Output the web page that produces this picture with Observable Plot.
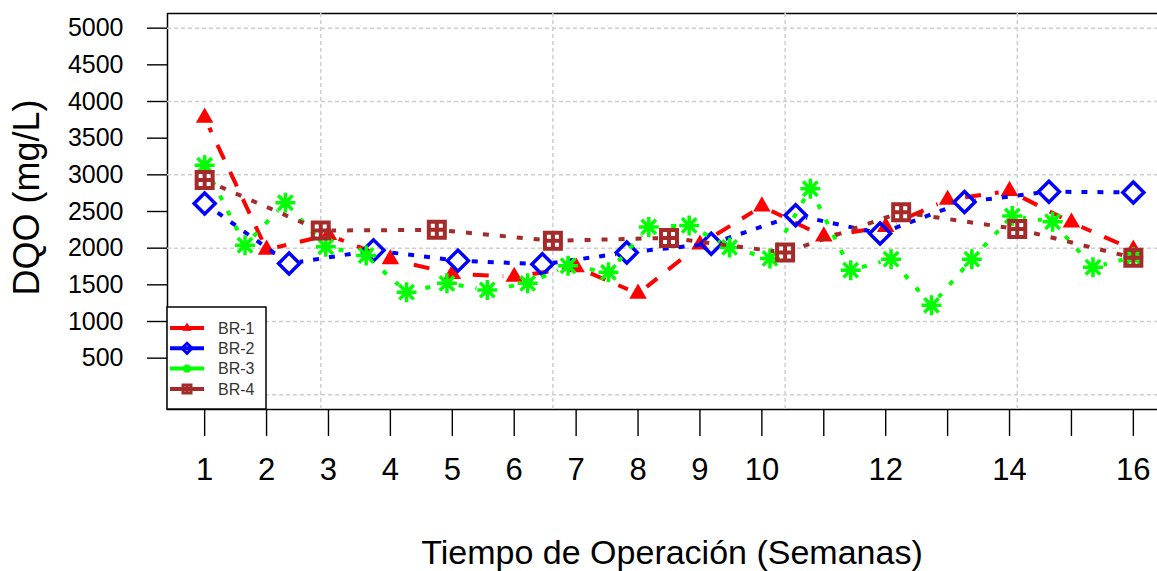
<!DOCTYPE html>
<html><head><meta charset="utf-8">
<script src="https://cdn.jsdelivr.net/npm/d3@7"></script>
<script src="https://cdn.jsdelivr.net/npm/@observablehq/plot@0.6"></script>
<style>
html,body{margin:0;padding:0;background:#fff;overflow:hidden;}
#wrap{width:1157px;height:571px;overflow:hidden;position:relative;}
#wrap svg{max-width:none !important;}
</style></head><body><div id="wrap"></div>
<script>
// ---- data ----
const seriesNames = ["BR-1", "BR-2", "BR-3", "BR-4"];
const seriesColors = ["#ff0000", "#0000ff", "#00ff00", "#a52a2a"];
const br1 = [3780, 1980, 2180, 1850, 1650, 1610, 1740, 1380, 2050, 2570, 2160, 2290, 2660, 2780, 2350, 1980];
const br2 = [2610, 1790, 1970, 1830, 1780, 1940, 2060, 2450, 2200, 2630, 2770, 2760];
const br3 = [3130, 2040, 2620, 2020, 1900, 1400, 1520, 1430, 1520, 1760, 1670, 2290, 2310, 2010, 1860, 2810, 1700, 1850, 1220, 1850, 2440, 2360, 1740, 1880];
const br4 = [2930, 2240, 2250, 2100, 2140, 1940, 2490, 2260, 1870];
const weekTicks = [1,2,3,4,5,6,7,8,9,10,11,12,13,14,15,16];
const weekLabels = [1,2,3,4,5,6,7,8,9,10,12,14,16];
const yTicks = [500,1000,1500,2000,2500,3000,3500,4000,4500,5000];
const yGrid = [0,1000,2000,3000,4000,5000];
const xTitle = "Tiempo de Operación (Semanas)";
const yTitle = "DQO (mg/L)";

// each series is sampled evenly across weeks 1..16
const spread = n => d3.range(n).map(i => 1 + i * 15 / (n - 1));
const xGrid = [1, 3, 5, 7].map(i => spread(br4.length)[i]);

// ---- symbols (R pch 17, 5, 8, 12) ----
const rad = size => Math.sqrt(size / Math.PI);
const sym = {
  triangle: {draw(c, size) { const s = rad(size); c.moveTo(0, -1.555*s); c.lineTo(1.347*s, 0.778*s); c.lineTo(-1.347*s, 0.778*s); c.closePath(); }},
  diamond: {draw(c, size) { const r = rad(size); c.moveTo(0, -r); c.lineTo(r, 0); c.lineTo(0, r); c.lineTo(-r, 0); c.closePath(); }},
  asterisk: {draw(c, size) { const r = rad(size), d = r * 0.72; c.moveTo(-r, 0); c.lineTo(r, 0); c.moveTo(0, -r); c.lineTo(0, r); c.moveTo(-d, -d); c.lineTo(d, d); c.moveTo(-d, d); c.lineTo(d, -d); }},
  squarePlus: {draw(c, size) { const r = rad(size); c.moveTo(-r, -r); c.lineTo(r, -r); c.lineTo(r, r); c.lineTo(-r, r); c.closePath(); c.moveTo(-r, 0); c.lineTo(r, 0); c.moveTo(0, -r); c.lineTo(0, r); }}
};

const series = [
  {values: br1, dash: "16,14", symbol: sym.triangle, r: 6.5, filled: true, sw: 0, lr: 3},
  {values: br2, dash: "6,10", symbol: sym.diamond, r: 10.5, filled: false, sw: 3.5, lr: 5},
  {values: br3, dash: "5,12", symbol: sym.asterisk, r: 10, filled: false, sw: 3.5, lr: 4},
  {values: br4, dash: "6,11", symbol: sym.squarePlus, r: 8, filled: false, sw: 4, lr: 4}
].map((s, i) => {
  const xs = s.values.length === 16 ? weekTicks : spread(s.values.length);
  return {...s, name: seriesNames[i], color: seriesColors[i], data: s.values.map((v, j) => ({x: xs[j], y: v}))};
});

const marks = [
  Plot.frame({stroke: "black", strokeWidth: 1.5}),
  Plot.ruleY(yGrid, {stroke: "#cfcfcf", strokeWidth: 1.5, strokeDasharray: "4,3"}),
  Plot.ruleX(xGrid, {stroke: "#cfcfcf", strokeWidth: 1.5, strokeDasharray: "4,3"})
];
for (const s of series) {
  marks.push(Plot.line(s.data, {x: "x", y: "y", stroke: s.color, strokeWidth: 4, strokeDasharray: s.dash, strokeLinecap: "butt"}));
  marks.push(Plot.dot(s.data, s.filled
    ? {x: "x", y: "y", symbol: s.symbol, r: s.r, fill: s.color, stroke: "none"}
    : {x: "x", y: "y", symbol: s.symbol, r: s.r, fill: "none", stroke: s.color, strokeWidth: s.sw}));
}
marks.push(
  Plot.axisY({ticks: yTicks, tickFormat: d => String(d), tickSize: 20, tickPadding: 24, fontSize: 25, strokeWidth: 1.4, label: null}),
  Plot.axisX({ticks: weekTicks, tickFormat: d => weekLabels.includes(d) ? String(d) : "", tickSize: 27, tickPadding: 21, fontSize: 31, strokeWidth: 1.4, label: null}),
  Plot.text([xTitle], {text: d => d, frameAnchor: "bottom", textAnchor: "middle", lineAnchor: "bottom", dx: 3, dy: 154, fontSize: 34}),
  Plot.text([yTitle], {text: d => d, frameAnchor: "left", textAnchor: "middle", lineAnchor: "bottom", rotate: -90, dx: -129, dy: -14, fontSize: 36})
);

const svg = Plot.plot({
  width: 1170, height: 571,
  marginLeft: 167, marginRight: 0, marginTop: 13, marginBottom: 162,
  x: {domain: [0.4, 16.6]},
  y: {domain: [-200, 5200]},
  style: {fontFamily: "'Liberation Sans', Arial, sans-serif", color: "black", background: "white", maxWidth: "none"},
  marks
});
svg.style.maxWidth = "none";

// ---- R type="b": lines stop short of each point ----
const X = svg.scale("x"), Y = svg.scale("y");
const defs = d3.select(svg).append("defs");
const lineGroups = svg.querySelectorAll('g[aria-label="line"]');
series.forEach((s, i) => {
  const m = defs.append("mask").attr("id", "gap" + i).attr("maskUnits", "userSpaceOnUse")
    .attr("x", -50).attr("y", -50).attr("width", 1300).attr("height", 700);
  m.append("rect").attr("x", -50).attr("y", -50).attr("width", 1300).attr("height", 700).attr("fill", "white");
  s.data.forEach(d => m.append("circle").attr("cx", X.apply(d.x)).attr("cy", Y.apply(d.y)).attr("r", 11).attr("fill", "black"));
  if (lineGroups[i]) lineGroups[i].setAttribute("mask", `url(#gap${i})`);
});

// ---- legend (R-style box, bottom-left) ----
const g = d3.select(svg).append("g").attr("text-anchor", "start");
g.append("rect").attr("x", 167).attr("y", 307).attr("width", 99).attr("height", 102)
  .attr("fill", "white").attr("stroke", "black").attr("stroke-width", 1.5);
series.forEach((s, i) => {
  const y = 328 + i * 20.3;
  g.append("line").attr("x1", 170).attr("x2", 204).attr("y1", y).attr("y2", y)
    .attr("stroke", s.color).attr("stroke-width", 4);
  g.append("path").attr("d", d3.symbol(s.symbol, Math.PI * s.lr * s.lr)())
    .attr("transform", `translate(187,${y})`)
    .attr("fill", s.filled ? s.color : "none").attr("stroke", s.color).attr("stroke-width", s.filled ? 1 : 3);
  g.append("text").attr("x", 218).attr("y", y).attr("dy", "0.35em")
    .attr("font-size", 16).attr("fill", "#333").text(s.name);
});

document.getElementById("wrap").appendChild(svg);
</script></body></html>
